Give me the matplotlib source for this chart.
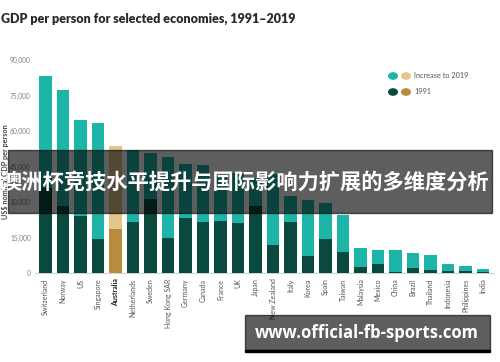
import numpy as np
import matplotlib
matplotlib.use('Agg')
import matplotlib.pyplot as plt
from matplotlib.patches import Rectangle, Circle

# data (US$ nominal GDP per person)
countries = ['Switzerland', 'Norway', 'US', 'Singapore', 'Australia', 'Netherlands', 'Sweden',
             'Hong Kong SAR', 'Germany', 'Canada', 'France', 'UK', 'Japan', 'New Zealand', 'Italy',
             'Korea', 'Spain', 'Taiwan', 'Malaysia', 'Mexico', 'China', 'Brazil', 'Thailand',
             'Indonesia', 'Philippines', 'India']
gdp_2019 = [83200, 77300, 64600, 63500, 53700, 52000, 50700, 49100, 46100, 45600, 40800, 42200,
            40300, 42000, 32700, 30800, 29500, 24400, 10700, 9700, 9700, 8300, 7500, 3800, 3000, 1700]
gdp_1991 = [36000, 28300, 24100, 14400, 18600, 21700, 31300, 14900, 23200, 21500, 22000, 21200,
            28400, 11800, 21400, 7300, 14200, 8700, 2500, 3700, 350, 2250, 1400, 700, 700, 300]
yticks = [0, 15000, 30000, 45000, 60000, 75000, 90000]

teal = '#1db5a8'
dark = '#0a4a3e'
tan = '#e2c68c'
gold = '#b98b3e'

W, H = 500, 362
fig = plt.figure(figsize=(5, 3.62), dpi=100)
fig.patch.set_facecolor('white')

# axes placed in pixel terms
x0, x1 = 35, 493.5
y0, y1 = 273, 60
ax = fig.add_axes([x0 / W, 1 - y0 / H, (x1 - x0) / W, (y0 - y1) / H])

x = np.arange(len(countries))
inc = np.array(gdp_2019) - np.array(gdp_1991)
base_cols = [gold if c == 'Australia' else dark for c in countries]
top_cols = [tan if c == 'Australia' else teal for c in countries]
ax.bar(x, gdp_1991, width=0.74, color=base_cols, zorder=2)
ax.bar(x, inc, bottom=gdp_1991, width=0.74, color=top_cols, zorder=2)

ax.set_xlim(-0.6, len(countries) - 0.4)
ax.set_ylim(0, 90000)
ax.set_yticks(yticks)
ax.set_yticklabels([f'{v:,}' for v in yticks], fontsize=4.8, color='#808080', family='Lato')
ax.tick_params(axis='y', length=0, pad=3)
ax.set_xticks(x)
ax.set_xticklabels(countries, rotation=90, fontsize=5, color='#555555', family='Lato')
ax.tick_params(axis='x', length=0, pad=4)
for lbl in ax.get_xticklabels():
    if lbl.get_text() == 'Australia':
        lbl.set_fontweight('bold')
        lbl.set_color('#222222')
for s in ['top', 'right', 'left']:
    ax.spines[s].set_visible(False)
ax.spines['bottom'].set_color('#cccccc')
ax.spines['bottom'].set_linewidth(0.6)

# y label sits partly under the banner, as in the original
fig.text(5.5 / W, 1 - 172 / H, 'US$ nominal GDP per person', fontsize=5.2, color='#444444',
         fontweight='bold', family='Lato', rotation=90, ha='center', va='center', zorder=3)

fig.text(1 / W, 1 - 19 / H, 'GDP per person for selected economies, 1991\u20132019',
         fontsize=9.0, fontweight='heavy', color='#2a2a2a', family='Lato', va='center')

# legend
def dot(px, py, c):
    fig.patches.append(Circle((px / W, 1 - py / H), 4.3 / W, color=c,
                              transform=fig.transFigure, figure=fig))
dot(393, 76, teal)
dot(406, 76, tan)
dot(393, 92, dark)
dot(406, 92, gold)
fig.text(414 / W, 1 - 76 / H, 'Increase to 2019', fontsize=5.3, color='#555555', va='center', family='Lato')
fig.text(414 / W, 1 - 92 / H, '1991', fontsize=5.3, color='#555555', va='center', family='Lato')

# overlay banner
fig.patches.append(Rectangle((8 / W, 1 - 213 / H), 484 / W, 63 / H, color='black', alpha=0.63,
                             transform=fig.transFigure, figure=fig, zorder=5))
fig.text(245 / W, 1 - 182 / H, '澳洲杯竞技水平提升与国际影响力扩展的多维度分析',
         fontsize=15.3, fontweight='bold', color='white', ha='center', va='center',
         family=['Noto Sans CJK SC', 'DejaVu Sans'], zorder=6)

# watermark box
fig.patches.append(Rectangle((245 / W, 1 - 350 / H), 245 / W, 35 / H, color='black', alpha=0.63,
                             transform=fig.transFigure, figure=fig, zorder=5))
fig.patches.append(Rectangle((245 / W, 1 - 352 / H), 245 / W, 2 / H, color='black',
                             transform=fig.transFigure, figure=fig, zorder=5))
fig.text(367 / W, 1 - 333 / H, 'www.official-fb-sports.com', fontsize=12, fontweight='bold',
         color='white', ha='center', va='center', family='Open Sans', zorder=6)

fig.savefig('out.png', dpi=100)
